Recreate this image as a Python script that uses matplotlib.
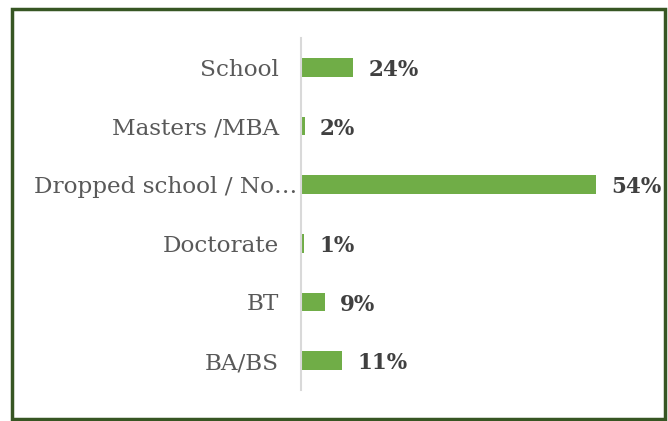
import matplotlib.pyplot as plt
from matplotlib.patches import Rectangle
from matplotlib.transforms import ScaledTranslation

categories = ["School", "Masters /MBA", "Dropped school / No\u2026", "Doctorate", "BT", "BA/BS"]
bar_values = [52, 3.5, 295, 3.3, 23.7, 40.7]
value_labels = ["24%", "2%", "54%", "1%", "9%", "11%"]

fig = plt.figure(figsize=(6.68, 4.21), dpi=100)
ax = fig.add_axes([301 / 668, 31 / 421, 339 / 668, 352 / 421])

y = list(range(len(categories)))
bars = ax.barh(y, bar_values, height=0.32, color="#70AD47")
ax.set_ylim(len(categories) - 0.5, -0.5)
ax.set_xlim(0, 339)

ax.set_yticks(y)
ax.set_yticklabels(categories, family="DejaVu Serif", fontsize=16.7, color="#595959")
ax.tick_params(axis="y", length=0, pad=16)
ax.set_xticks([])
# the truncated label runs almost up to the axis line
lab = ax.get_yticklabels()[2]
lab.set_transform(lab.get_transform() + ScaledTranslation(0.18, 0, fig.dpi_scale_trans))

for s in ["top", "right", "bottom"]:
    ax.spines[s].set_visible(False)
ax.spines["left"].set_color("#D9D9D9")
ax.spines["left"].set_linewidth(1.5)

for b, lab in zip(bars, value_labels):
    ax.annotate(lab, (b.get_width(), b.get_y() + b.get_height() / 2),
                xytext=(11, -2), textcoords="offset points", va="center", ha="left",
                family="DejaVu Serif", fontsize=15.5, fontweight="bold", color="#404040")

# dark green frame around the chart
fig.patches.append(Rectangle((12 / 668, 2.5 / 421), 653 / 668, 410 / 421,
                             transform=fig.transFigure, fill=False,
                             edgecolor="#375623", linewidth=2.5))

fig.savefig("out.png", dpi=100)
